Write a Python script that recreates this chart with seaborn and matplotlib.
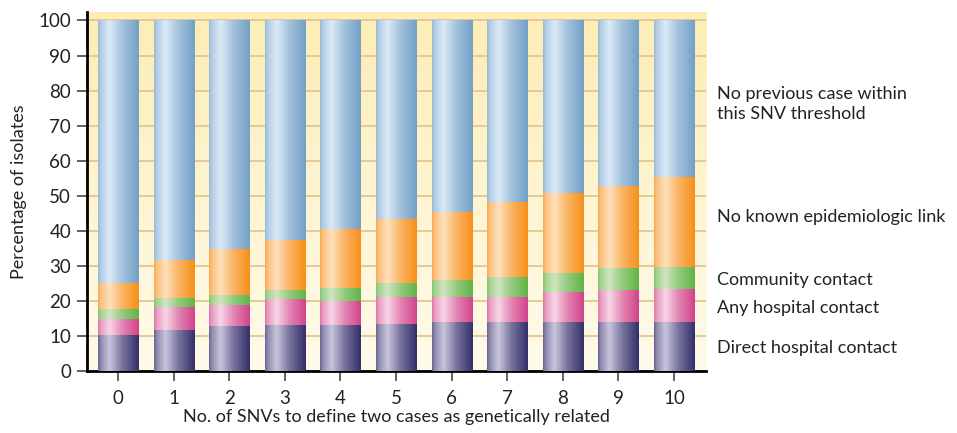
import numpy as np
import pandas as pd
import matplotlib
matplotlib.use('Agg')
import matplotlib.pyplot as plt
import seaborn as sns
from matplotlib.colors import to_rgb

# SNV threshold categories
thresholds = ['0', '1', '2', '3', '4', '5', '6', '7', '8', '9', '10']

# Percentage of isolates per category (segments)
direct_hospital = [10.0, 11.5, 12.8, 13.0, 13.1, 13.4, 13.7, 13.7, 13.9, 13.9, 13.9]
any_hospital = [4.7, 6.5, 6.0, 7.3, 6.8, 7.5, 7.4, 7.4, 8.6, 9.0, 9.4]
community = [2.9, 2.7, 2.8, 2.8, 3.6, 4.1, 4.6, 5.6, 5.2, 6.2, 6.1]
no_known_link = [7.3, 10.7, 13.0, 14.2, 16.9, 18.3, 19.4, 21.3, 22.8, 23.6, 25.7]

series_labels = ['Direct hospital contact', 'Any hospital contact', 'Community contact',
                 'No known epidemiologic link', 'No previous case within\nthis SNV threshold']

# (edge colour, highlight colour) for each series, bottom to top
shades = [('#35306a', '#c9c5dc'),
          ('#d2448a', '#f7d6e6'),
          ('#62b448', '#cfe6bf'),
          ('#f7901a', '#fee0bd'),
          ('#73a0c6', '#dceaf7')]

df = pd.DataFrame({'threshold': thresholds,
                   'direct': direct_hospital,
                   'any': any_hospital,
                   'community': community,
                   'nolink': no_known_link})
df['noprev'] = 100 - df[['direct', 'any', 'community', 'nolink']].sum(axis=1)
cols = ['direct', 'any', 'community', 'nolink', 'noprev']
cum = df[cols].cumsum(axis=1)

plt.rcParams['font.family'] = ['Lato', 'DejaVu Sans']
fig = plt.figure(figsize=(9.57, 4.33), dpi=100)
ax = fig.add_axes([0.0904, 0.1432, 0.7374 - 0.0904, 0.973 - 0.1432])

# draw stacked bars: tallest first, each later one covers the lower part
bar_width = 0.72
n_before = 0
layer_patches = []
for i in range(len(cols) - 1, -1, -1):
    d = pd.DataFrame({'threshold': thresholds, 'value': cum[cols[i]].values})
    sns.barplot(data=d, x='threshold', y='value', color=shades[i][0], width=bar_width,
                ax=ax, zorder=2 + (len(cols) - i), saturation=1, errorbar=None)
    new = ax.patches[n_before:]
    n_before = len(ax.patches)
    layer_patches.append((i, new))

# cylinder-like horizontal shading on every bar
t = np.linspace(0, 1, 64)
prof = np.interp(t, [0, 0.06, 0.28, 0.6, 1.0], [0.35, 0.6, 1.0, 0.45, 0.0])
for i, patches in layer_patches:
    edge = np.array(to_rgb(shades[i][0]))
    light = np.array(to_rgb(shades[i][1]))
    grad = edge[None, :] + (light - edge)[None, :] * prof[:, None]
    img = grad[None, :, :]
    for p in patches:
        x0, y0 = p.get_x(), p.get_y()
        w, h = p.get_width(), p.get_height()
        ax.imshow(img, extent=[x0, x0 + w, y0, y0 + h], aspect='auto',
                  zorder=p.get_zorder() + 0.5, interpolation='bilinear')

# pale yellow background, stronger at the top
bg = np.linspace(0, 1, 100)[:, None]
top_c = np.array(to_rgb('#fdedb5'))
bot_c = np.array(to_rgb('#fffbeb'))
bg_img = bot_c[None, None, :] + (top_c - bot_c)[None, None, :] * bg[:, :, None]
ax.imshow(bg_img, extent=[0, 1, 0, 1], transform=ax.transAxes, aspect='auto',
          origin='lower', zorder=0)

ax.set_xlim(-0.567, 10.57)
ax.set_ylim(0, 102.5)
ax.set_yticks(range(0, 101, 10))
ax.yaxis.grid(True, color='#e3c995', linewidth=1.4)
ax.xaxis.grid(False)
ax.set_axisbelow(True)

for s in ['top', 'right']:
    ax.spines[s].set_visible(False)
for s in ['left', 'bottom']:
    ax.spines[s].set_color('black')
    ax.spines[s].set_linewidth(2)
ax.tick_params(axis='both', direction='out', length=7, width=1.3, color='#555555',
               labelsize=13.5, labelcolor='#222222', pad=4)
ax.tick_params(axis='x', pad=7)

ax.set_xlabel('No. of SNVs to define two cases as genetically related', fontsize=13,
              color='#222222', labelpad=1)
ax.set_ylabel('Percentage of isolates', fontsize=13, color='#222222', labelpad=8)

# labels at the right side
label_y = [6.6, 18.0, 26.0, 43.9, 76.2]
for lab, y in zip(series_labels, label_y):
    ax.text(10.77, y, lab, fontsize=13, color='#222222', va='center', ha='left',
            clip_on=False, linespacing=1.25)

fig.savefig('out.png', dpi=100)
